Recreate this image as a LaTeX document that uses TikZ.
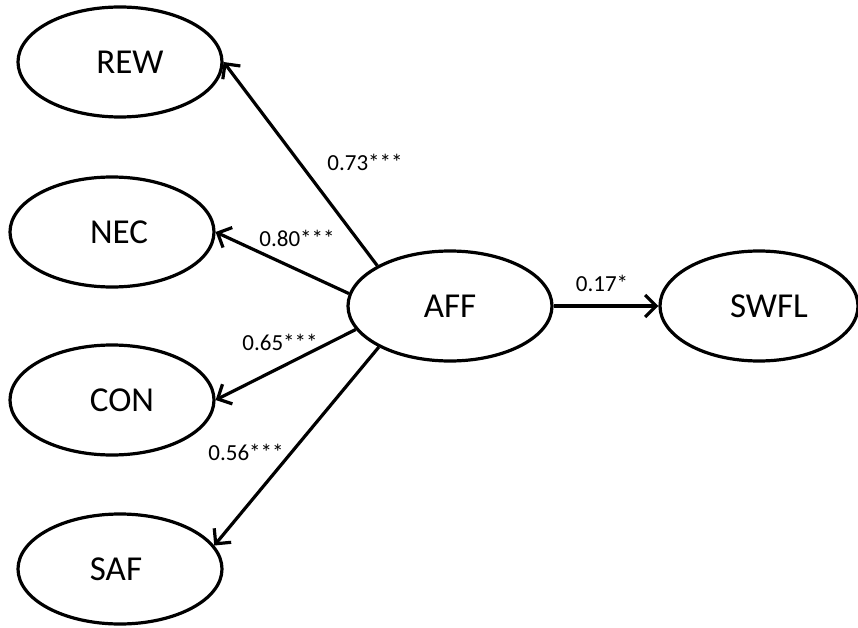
\documentclass[tikz,border=0pt]{standalone}
\usepackage{fontspec}
\setmainfont{Carlito}
\usetikzlibrary{shapes.geometric,arrows.meta}
\begin{document}
\begin{tikzpicture}[x=1pt,y=-1pt,
  latent/.style={draw,ellipse,line width=3.2pt,minimum width=204pt,minimum height=110pt,inner sep=0pt,font=\fontsize{35}{40}\selectfont},
  path/.style={line width=3.2pt,-{Straight Barb[length=11pt,width=22pt,line width=3.2pt]}},
  coef/.style={font=\fontsize{23}{27}\selectfont,inner sep=0pt}]
\useasboundingbox (0,0) rectangle (858,628);
\node[latent] (rew) at (120,62) {\hspace*{20pt}REW};
\node[latent] (nec) at (112,232) {\hspace*{14pt}NEC};
\node[latent] (con) at (112,400) {\hspace*{20pt}CON};
\node[latent] (saf) at (120,569) {SAF\hspace*{8pt}};
\node[latent] (aff) at (450,306) {AFF};
\node[latent,minimum width=198pt] (swfl) at (759,306) {\hspace*{20pt}SWFL};
\draw[path] (aff.151.6) -- (rew.east);
\draw[path] (aff.173) -- (nec.east);
\draw[path] (aff.194.5) -- (con.east);
\draw[path] (aff.210) -- (saf.14);
\draw[path] (aff.east) -- (swfl.west);
\node[coef] (l1) at (365,162) {0.73***};
\node[coef] (l2) at (297,238) {0.80***};
\node[coef] (l3) at (280,342) {0.65***};
\node[coef] (l4) at (246,452) {0.56***};
\node[coef] (l5) at (602,283) {0.17*};
\end{tikzpicture}
\end{document}
